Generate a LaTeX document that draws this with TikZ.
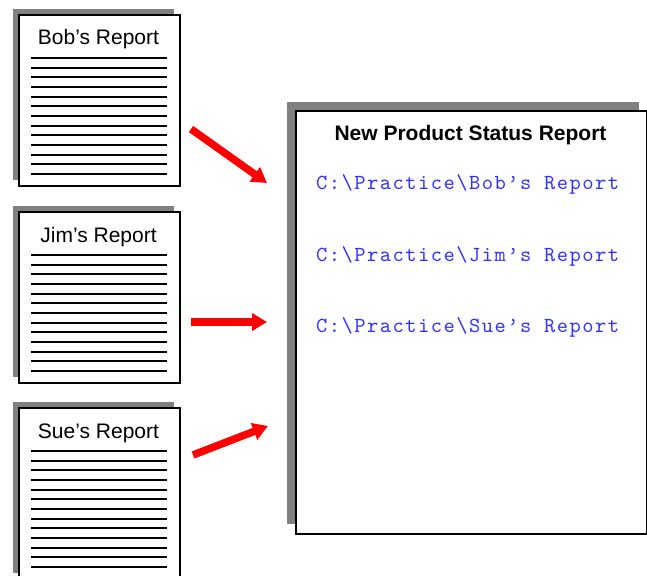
\documentclass[tikz,border=0pt]{standalone}
\usepackage{fontspec}
\setmainfont{Liberation Sans}
\newfontfamily\pathmono[Extension=.otf, LetterSpace=6.8]{lmmono10-regular}
\usetikzlibrary{arrows.meta}
\definecolor{shadowgray}{RGB}{128,128,128}
\definecolor{pathblue}{RGB}{50,50,255}
\begin{document}
\begin{tikzpicture}[x=1pt,y=-1pt,
  page/.style={fill=white, draw=black, line width=2pt, inner sep=0pt, anchor=north west},
  ruling/.style={line width=1.8pt},
  flow/.style={draw=red, line width=7.5pt, -{Triangle[length=15pt,width=17pt]}},
  doctitle/.style={font=\fontsize{21}{24}\selectfont, inner sep=0pt, anchor=base},
  pathtext/.style={font=\pathmono\fontsize{21.5}{24}\selectfont, text=pathblue, anchor=base west, inner sep=0pt}]
\useasboundingbox (0,0) rectangle (647,575);
\clip (0,0) rectangle (647,575);
\fill[white] (0,0) rectangle (647,575);

% small report documents
\foreach \n/\t/\lab in {bob/14/Bob’s Report, jim/211/Jim’s Report, sue/407/Sue’s Report}{
  \fill[shadowgray] (13,{\t-5}) rectangle (174,{\t+166});
  \node[page, minimum width=161pt, minimum height=171pt] (\n) at (18,\t) {};
  \node[doctitle] (\n-title) at (98.5,{\t+31}) {\lab};
  \foreach \k in {0,...,12}
    \draw[ruling] (31,{\t+44+\k*9.667}) -- (167,{\t+44+\k*9.667});
}

% combined report
\fill[shadowgray] (287,102) rectangle (639,524);
\node[page, minimum width=351pt, minimum height=423pt] (status) at (295,110) {};
\node[doctitle, font=\bfseries\fontsize{21}{24}\selectfont] (status-title) at (470.5,140) {New Product Status Report};
\node[pathtext] (bobpath) at (316,189) {C:\textbackslash Practice\textbackslash Bob’s Report};
\node[pathtext] (jimpath) at (316,261) {C:\textbackslash Practice\textbackslash Jim’s Report};
\node[pathtext] (suepath) at (316,332) {C:\textbackslash Practice\textbackslash Sue’s Report};

% arrows
\coordinate (bob-from) at (191,129);
\coordinate (bob-to) at (267,183);
\coordinate (jim-from) at (191,322);
\coordinate (jim-to) at (267,322);
\coordinate (sue-from) at (193,455);
\coordinate (sue-to) at (268,426);
\draw[flow] (bob-from) -- (bob-to);
\draw[flow] (jim-from) -- (jim-to);
\draw[flow] (sue-from) -- (sue-to);
\end{tikzpicture}
\end{document}
